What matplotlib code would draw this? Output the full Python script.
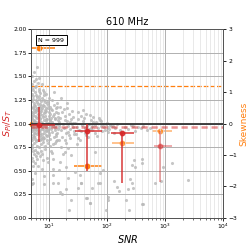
import matplotlib
matplotlib.use("Agg")
import matplotlib.pyplot as plt
import numpy as np

# ─── Scatter data (SNR, S_PI/S_T) ──────────────────────────────────────────
snr_a = [5.02, 5.05, 5.08, 5.1, 5.12, 5.15, 5.18, 5.2, 5.22, 5.25, 5.28, 5.3, 5.33, 5.35, 5.38,
         5.4, 5.42, 5.45, 5.48, 5.5, 5.53, 5.55, 5.58, 5.03, 5.07, 5.13, 5.17, 5.23, 5.27, 5.32,
         5.37, 5.43, 5.47, 5.52, 5.57, 5.04, 5.11, 5.19, 5.26, 5.34, 5.41, 5.49, 5.56, 5.06, 5.14]
ratio_a = [0.97, 1.12, 0.85, 1.31, 0.74, 1.05, 1.42, 0.92, 0.63, 1.18, 1.01, 0.88, 1.26, 0.55, 1.09,
           0.96, 1.36, 0.79, 1.14, 0.68, 1.03, 1.22, 0.9, 1.51, 0.41, 1.08, 0.82, 1.29, 0.99, 0.71,
           1.16, 0.94, 1.45, 0.86, 1.02, 0.36, 1.24, 0.77, 1.11, 0.95, 0.6, 1.2, 0.93, 1.38, 1.06]

snr_b = [5.62, 5.65, 5.7, 5.73, 5.76, 5.8, 5.83, 5.87, 5.9, 5.94, 5.97, 6.0, 6.04, 6.08, 6.12,
         6.15, 6.19, 6.23, 6.27, 6.3, 6.34, 6.38, 6.42, 6.46, 5.64, 5.68, 5.75, 5.79, 5.85, 5.92,
         5.99, 6.06, 6.14, 6.21, 6.29, 6.36, 6.44, 5.71, 5.88, 6.02, 6.17, 6.32, 6.48, 5.82, 6.1]
ratio_b = [1.04, 0.87, 1.19, 0.95, 1.33, 0.72, 1.08, 0.98, 1.25, 0.81, 1.13, 0.93, 1.47, 0.66, 1.02,
           1.17, 0.89, 1.28, 0.97, 1.6, 0.76, 1.1, 0.91, 1.21, 1.55, 0.58, 1.0, 1.39, 0.84, 1.15,
           0.99, 1.3, 0.7, 1.06, 0.94, 1.23, 0.83, 0.47, 1.12, 1.4, 0.62, 1.01, 1.16, 0.9, 1.07]

snr_c = [6.52, 6.56, 6.6, 6.64, 6.68, 6.72, 6.76, 6.8, 6.85, 6.9, 6.94, 6.98, 7.03, 7.08, 7.12,
         7.17, 7.22, 7.27, 7.32, 7.37, 7.42, 7.47, 6.54, 6.62, 6.7, 6.78, 6.87, 6.96, 7.05, 7.14,
         7.24, 7.34, 7.44, 6.58, 6.74, 6.92, 7.1, 7.3, 7.46, 6.83]
ratio_c = [0.96, 1.14, 0.83, 1.26, 1.03, 0.75, 1.18, 0.92, 1.37, 1.05, 0.88, 1.21, 0.97, 0.65, 1.1,
           1.32, 0.86, 1.0, 1.15, 0.78, 1.24, 0.94, 1.43, 0.69, 1.08, 0.99, 1.29, 0.82, 1.12, 0.93,
           1.19, 0.71, 1.02, 0.55, 1.35, 0.9, 1.06, 0.84, 1.13, 1.48]

snr_d = [7.52, 7.58, 7.64, 7.7, 7.76, 7.82, 7.88, 7.95, 8.02, 8.08, 8.15, 8.22, 8.3, 8.37, 8.44,
         8.52, 8.6, 8.68, 8.76, 8.84, 8.92, 8.98, 7.55, 7.67, 7.79, 7.92, 8.05, 8.18, 8.33, 8.48,
         8.64, 8.8, 8.95, 7.61, 7.85, 8.11, 8.4, 8.7, 7.73, 8.26]
ratio_d = [1.01, 0.89, 1.16, 0.95, 1.27, 0.8, 1.07, 0.98, 1.2, 0.86, 1.11, 0.93, 1.33, 1.04, 0.76,
           1.14, 0.97, 1.23, 0.88, 1.05, 0.92, 1.17, 0.68, 1.09, 1.36, 0.84, 1.0, 1.25, 0.9, 1.12,
           0.73, 1.03, 0.95, 1.42, 0.61, 1.19, 0.85, 1.08, 0.52, 1.3]

snr_e = [9.03, 9.1, 9.18, 9.26, 9.35, 9.44, 9.53, 9.62, 9.72, 9.82, 9.92, 10.0, 10.1, 10.2, 10.3,
         10.4, 10.5, 10.6, 10.7, 10.8, 10.9, 9.07, 9.22, 9.4, 9.58, 9.77, 9.96, 10.15, 10.35, 10.55,
         10.75, 10.95, 9.3, 9.68, 10.25]
ratio_e = [0.97, 1.13, 0.87, 1.05, 1.22, 0.93, 1.01, 0.79, 1.16, 0.95, 1.08, 0.9, 1.27, 0.99, 1.1,
           0.84, 1.04, 1.18, 0.94, 0.71, 1.06, 1.31, 0.82, 1.0, 1.2, 0.92, 1.12, 0.88, 1.03, 0.96,
           1.15, 0.98, 0.63, 1.24, 0.76]

snr_f = [11.1, 11.3, 11.5, 11.7, 11.9, 12.1, 12.3, 12.5, 12.8, 13.0, 13.3, 13.6, 13.9, 14.2, 14.5,
         14.8, 11.2, 11.6, 12.0, 12.4, 12.9, 13.4, 13.8, 14.3, 14.7, 11.4, 12.2, 13.1, 14.0, 11.8,
         12.6, 13.5, 14.4, 12.7, 13.7]
ratio_f = [1.02, 0.91, 1.14, 0.97, 1.08, 0.86, 1.2, 0.95, 1.05, 0.89, 1.12, 0.99, 0.83, 1.07, 0.94,
           1.02, 1.25, 0.78, 1.0, 1.1, 0.93, 1.16, 0.9, 1.04, 0.96, 0.69, 1.34, 0.87, 1.18, 0.62,
           1.06, 0.81, 1.11, 0.97, 1.22]

snr_g = [15.2, 15.8, 16.4, 17.0, 17.6, 18.3, 19.0, 19.7, 20.5, 21.3, 22.1, 23.0, 24.0, 25.0, 26.0,
         27.0, 15.5, 16.7, 17.9, 19.3, 20.9, 22.5, 24.5, 26.5, 16.1, 18.6, 21.7, 25.5, 17.3, 20.1,
         23.5, 15.9, 19.9, 22.8, 27.5]
ratio_g = [0.98, 1.06, 0.93, 1.12, 1.0, 0.95, 1.08, 0.9, 1.03, 0.97, 1.1, 0.94, 1.05, 0.99, 1.01,
           0.92, 1.18, 0.86, 1.15, 0.82, 1.22, 0.88, 1.13, 0.96, 0.75, 1.04, 0.91, 1.07, 0.68, 1.16,
           0.85, 1.27, 0.79, 1.02, 0.89]

snr_h = [28.5, 30, 31.5, 33, 35, 37, 39, 41, 43, 46, 49, 52, 55, 58, 29.5, 32, 36, 40, 44, 48,
         53, 57, 34, 42, 50, 30.5, 38, 47, 56, 45]
ratio_h = [1.01, 0.96, 1.05, 0.93, 1.08, 0.98, 1.03, 0.95, 1.1, 0.99, 0.94, 1.04, 0.97, 1.02, 0.89,
           1.12, 0.92, 1.06, 0.88, 1.0, 0.95, 1.07, 0.82, 0.9, 1.09, 0.78, 1.14, 0.86, 0.93, 0.97]

snr_i = [61, 65, 70, 75, 80, 86, 92, 98, 105, 112, 63, 72, 83, 95, 108, 68, 78, 90, 102, 118,
         125, 135, 150, 165, 200, 230, 260, 300, 340, 380, 420, 480, 550, 130, 280]
ratio_i = [0.98, 1.02, 0.95, 1.04, 0.97, 0.99, 0.93, 1.01, 0.96, 0.98, 0.9, 1.06, 0.92, 1.0, 0.94,
           0.87, 1.03, 0.96, 0.91, 0.97, 0.97, 0.95, 0.99, 0.93, 0.96, 0.94, 0.98, 0.92, 0.96, 0.95,
           0.97, 0.93, 0.95, 0.9, 0.97]

# sparse outliers below the main band
snr_low = [5.3, 8.3, 11.9, 12, 14.9, 15.5, 17, 20, 22.5, 24, 35.8, 43.7, 50, 55, 74.5, 97, 104,
           104, 130, 150, 230, 210, 250, 270, 280, 290, 400, 414, 660, 850, 1290, 2500, 900,
           14.9, 12.5, 21, 18.7, 24, 31.8, 9.6, 15.3, 20, 11.7, 21, 14.3, 8.4, 27.8, 34, 31.8,
           62, 76, 85, 69, 159, 270, 300, 400, 237, 36, 45, 51, 400]
ratio_low = [0.365, 0.36, 0.37, 0.52, 0.51, 0.27, 0.25, 0.30, 0.08, 0.19, 0.37, 0.21, 0.16, 0.31,
             0.37, 0.08, 0.22, 0.19, 0.385, 0.33, 0.30, 0.19, 0.41, 0.37, 0.31, 0.61, 0.62, 0.145,
             0.37, 0.39, 0.58, 0.40, 0.535,
             0.82, 0.79, 0.74, 0.70, 0.67, 0.85, 0.59, 0.595, 0.54, 0.45, 0.42, 0.365, 0.44, 0.49,
             0.45, 0.31, 0.70, 0.47, 0.51, 0.365, 0.28, 0.56, 0.54, 0.58, 0.08, 0.365, 0.21, 0.16,
             0.15]

# ─── Binned statistics ───────────────────────────────────────────────────────
bin_snr = [6.8, 45, 181, 802]
bin_lo = [4.6, 28.2, 118, 630]
bin_hi = [12.7, 82, 296, 1290]
bin_ratio = [0.984, 0.924, 0.896, 0.761]
ratio_lo = [0.807, 0.50, 0.365, 0.382]
ratio_hi = [1.18, 0.995, 0.90, 0.92]
bin_skew = [2.40, -1.36, -0.61, -0.23]
skew_lo = [5.2, 27, 120, 600]
bin_alpha = [0.85, 0.85, 0.85, 0.45]

median_ratio = 0.966
total_skew = 1.21
n_sources = 999

RED = "#d62728"
ORANGE = "#ff7f0e"

snr = np.concatenate([snr_a, snr_b, snr_c, snr_d, snr_e, snr_f, snr_g, snr_h, snr_i, snr_low])
ratio = np.concatenate([ratio_a, ratio_b, ratio_c, ratio_d, ratio_e, ratio_f, ratio_g, ratio_h,
                        ratio_i, ratio_low])

# ─── Plot ────────────────────────────────────────────────────────────────────
fig = plt.figure(figsize=(2.49, 2.49), dpi=100)
ax = fig.add_axes([0.126, 0.126, 0.771, 0.756])
ax2 = ax.twinx()

ax.scatter(snr, ratio, s=5, color="#b8b8b8", alpha=0.8, linewidths=0, zorder=2)
ax.axhline(1.0, color="#333333", lw=1.3, zorder=3)
ax.axhline(median_ratio, color=RED, lw=1.8, ls=(0, (2.5, 1.5)), alpha=0.5, zorder=3)

for i in range(len(bin_snr)):
    ax.errorbar(bin_snr[i], bin_ratio[i],
                xerr=[[bin_snr[i] - bin_lo[i]], [bin_hi[i] - bin_snr[i]]],
                yerr=[[bin_ratio[i] - ratio_lo[i]], [ratio_hi[i] - bin_ratio[i]]],
                fmt="o", ms=3.2, color=RED, ecolor=RED, elinewidth=1.2,
                alpha=bin_alpha[i], capsize=0, zorder=5)

ax2.axhline(total_skew, color=ORANGE, lw=0.9, ls="--", zorder=3)
ax2.plot([5.05], [0.0], "o", ms=3.2, color=ORANGE, zorder=5, clip_on=False)
for i in range(len(bin_snr)):
    ax2.errorbar(bin_snr[i], bin_skew[i],
                 xerr=[[bin_snr[i] - skew_lo[i]], [bin_hi[i] - bin_snr[i]]],
                 fmt="o", ms=3.2, color=ORANGE, ecolor=ORANGE, elinewidth=1.1,
                 alpha=1.0 if i < 2 else 0.6, capsize=0, zorder=5)

ax.set_xscale("log")
ax.set_xlim(5, 1e4)
ax.set_ylim(0, 2)
ax.set_yticks(np.arange(0, 2.01, 0.25))
ax.set_yticklabels([f"{v:.2f}" for v in np.arange(0, 2.01, 0.25)])
ax2.set_ylim(-3, 3)
ax2.set_yticks(range(-3, 4))
ax2.set_xlim(5, 1e4)

ax.grid(True, which="major", color="#b0b0b0", lw=0.7)
ax.grid(True, which="minor", axis="x", color="#e0e0e0", lw=0.5)
ax.set_axisbelow(True)

ax.tick_params(labelsize=4.3, length=2, width=0.6, pad=1.2)
ax.tick_params(which="minor", length=1.2, width=0.4)
ax2.tick_params(labelsize=4.3, length=2, width=0.6, pad=1.5)
for a in (ax, ax2):
    for sp in a.spines.values():
        sp.set_linewidth(0.7)
        sp.set_color("#555555")

ax.set_title("610 MHz", fontsize=7, pad=3)
ax.set_xlabel("$SNR$", fontsize=7, labelpad=1)
ax.set_ylabel("$S_{PI}/S_T$", fontsize=6.8, color=RED)
ax.yaxis.set_label_coords(-0.093, 0.5)
ax2.set_ylabel("Skewness", fontsize=6.5, color=ORANGE, labelpad=2)

ax.text(0.035, 0.955, f"N = {n_sources}", transform=ax.transAxes, fontsize=4.5,
        ha="left", va="top", zorder=6,
        bbox=dict(boxstyle="square,pad=0.4", facecolor="white", edgecolor="black", lw=0.7))

ax.set_zorder(ax2.get_zorder() + 1)
ax.patch.set_visible(False)

fig.savefig("out.png", dpi=100)
